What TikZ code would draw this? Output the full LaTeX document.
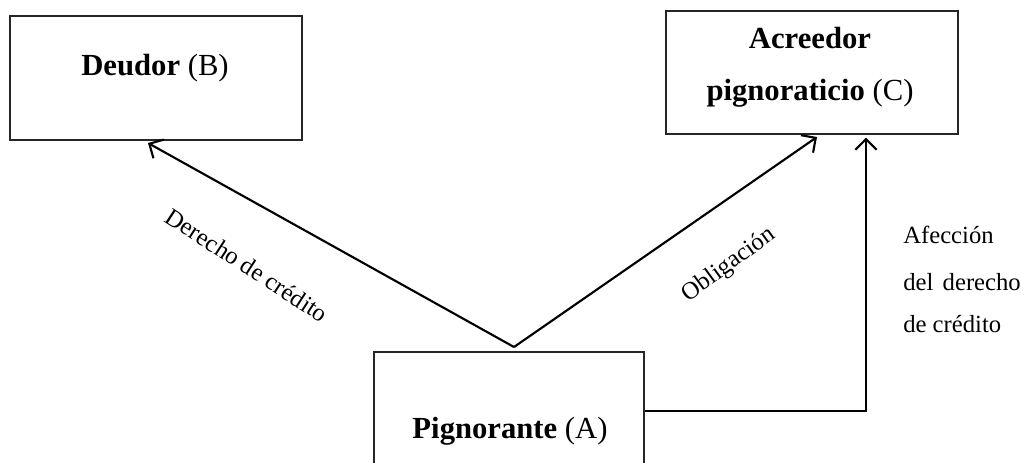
\documentclass[tikz,border=0pt]{standalone}
\usepackage{fontspec}
\setmainfont{Liberation Serif}
\usetikzlibrary{arrows.meta}
\begin{document}
\begin{tikzpicture}[x=0.75pt,y=-0.75pt,
  box/.style={draw=black!85, line width=0.8pt, rectangle, inner sep=0pt},
  boxtext/.style={font=\fontsize{23}{39}\selectfont, anchor=base, align=center, inner sep=0pt},
  lbl/.style={font=\fontsize{18.5}{34}\selectfont, inner sep=0pt},
  conn/.style={line width=1.6pt, -{Straight Barb[length=8pt,width=16pt,line width=1.6pt]}},
]
\clip (0,0) rectangle (1035,462);
\fill[white] (0,0) rectangle (1035,462);
% boxes
\node[box, minimum width=219pt, minimum height=93pt] (deudor) at (156,78) {};
\node[box, minimum width=219pt, minimum height=92.25pt] (acre) at (812,72.5) {};
\node[box, minimum width=202.5pt, minimum height=96pt] (pign) at (509,416) {};
% box texts
\node[boxtext] (tdeudor) at (155,75) {\textbf{Deudor} (B)};
\node[boxtext] (tacre) at (810,100) {\textbf{Acreedor}\\\textbf{pignoraticio} (C)};
\node[boxtext] (tpign) at (510,438) {\textbf{Pignorante} (A)};
% connectors
\coordinate (apex) at (514,347);
\coordinate (dtip) at (148,143);
\coordinate (atip) at (817,137);
\coordinate (corner) at (866,411);
\draw[conn] (apex) -- (dtip);
\draw[conn] (apex) -- (atip);
\draw[conn] (pign.east |- corner) -- (corner) -- ([yshift=-2.25pt]corner |- acre.south);
% labels
\node[lbl, rotate=-33] (lder) at (247,265) {Derecho de crédito};
\node[lbl, rotate=36] (lobl) at (729,265) {Obligación};
\node[lbl, anchor=base west] (laf1) at (903,243) {Afección};
\node[lbl, anchor=base west] (laf2) at (903,290) {del\hspace{7pt}derecho};
\node[lbl, anchor=base west] (laf3) at (903,332) {de crédito};
\end{tikzpicture}
\end{document}
